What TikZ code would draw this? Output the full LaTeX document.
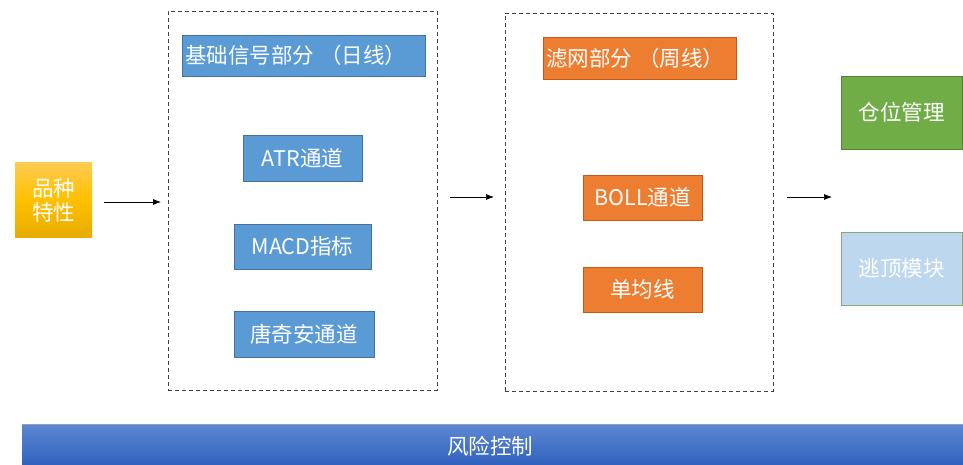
\documentclass[tikz,border=0pt]{standalone}
\usepackage{fontspec}
\setmainfont{Noto Sans CJK SC}
\usetikzlibrary{arrows.meta}
\definecolor{bluebox}{HTML}{5B9BD5}
\definecolor{blueedge}{HTML}{41719C}
\definecolor{orangebox}{HTML}{ED7D31}
\definecolor{orangeedge}{HTML}{C55A11}
\definecolor{greenbox}{HTML}{70AD47}
\definecolor{greenedge}{HTML}{548235}
\definecolor{lightblue}{HTML}{BDD7EE}
\definecolor{lbedge}{HTML}{8CAA70}
\definecolor{dashgray}{HTML}{404040}
\begin{document}
\begin{tikzpicture}[x=1pt,y=-1pt,
  box/.style={rectangle,inner sep=0pt,text=white,font=\fontsize{21.5}{24}\selectfont,align=center},
  bluenode/.style={box,fill=bluebox,draw=blueedge,line width=0.6pt},
  orangenode/.style={box,fill=orangebox,draw=orangeedge,line width=0.6pt},
  group/.style={draw=dashgray,line width=0.8pt,dash pattern=on 4pt off 3pt},
  flow/.style={draw=black,line width=0.7pt,-{Latex[length=8pt,width=6pt]}}]
\useasboundingbox (0,0) rectangle (963,465);
% left box
\node[box,minimum width=77pt,minimum height=74pt,draw=none,
  top color={rgb,255:red,255;green,203;blue,80},bottom color={rgb,255:red,230;green,172;blue,0},
  middle color={rgb,255:red,255;green,192;blue,0}] (pz) at (53.5,200) {品种\\特性};
% groups
\node[group,minimum width=269pt,minimum height=379pt,inner sep=0pt] (g1) at (302.5,200.5) {};
\node[group,minimum width=268pt,minimum height=378pt,inner sep=0pt] (g2) at (639,202) {};
% group 1 contents
\node[bluenode,text width=237pt,inner xsep=3pt,minimum height=41pt,align=left] (jc) at (303.5,55.5) {基础信号部分\hspace{6pt}（日线）};
\node[bluenode,minimum width=119pt,minimum height=46pt] (atr) at (302.5,158) {ATR通道};
\node[bluenode,minimum width=137pt,minimum height=45pt] (macd) at (302.5,246.5) {MACD指标};
\node[bluenode,minimum width=140pt,minimum height=46pt] (tqa) at (304,334) {唐奇安通道};
% group 2 contents
\node[orangenode,text width=187pt,inner xsep=3pt,minimum height=42pt,align=left] (lw) at (639.5,58) {滤网部分\hspace{6pt}（周线）};
\node[orangenode,minimum width=119pt,minimum height=45pt] (boll) at (642.5,197.5) {BOLL通道};
\node[orangenode,minimum width=119pt,minimum height=45pt] (djx) at (642.5,289.5) {单均线};
% right boxes
\node[box,fill=greenbox,draw=greenedge,line width=0.6pt,minimum width=121pt,minimum height=73pt] (cw) at (901.5,112.5) {仓位管理};
\node[box,fill=lightblue,draw=lbedge,line width=0.6pt,minimum width=121pt,minimum height=73pt] (td) at (901.5,268.5) {逃顶模块};
% bottom bar
\shade[top color={rgb,255:red,93;green,135;blue,210},bottom color={rgb,255:red,48;green,98;blue,190}] (22,424) rectangle (963,465);
\draw[draw={rgb,255:red,150;green,160;blue,180},line width=0.6pt] (22,424) -- (963,424);
\node[text=white,font=\fontsize{21.5}{24}\selectfont,inner sep=0pt] (fx) at (490,446) {风险控制};
% arrows
\coordinate (a1s) at (104,202); \coordinate (a1e) at (161,202);
\coordinate (a2s) at (450,197); \coordinate (a2e) at (494,197);
\coordinate (a3s) at (787,197); \coordinate (a3e) at (832,197);
\draw[flow] (a1s) -- (a1e);
\draw[flow] (a2s) -- (a2e);
\draw[flow] (a3s) -- (a3e);
\end{tikzpicture}
\end{document}
